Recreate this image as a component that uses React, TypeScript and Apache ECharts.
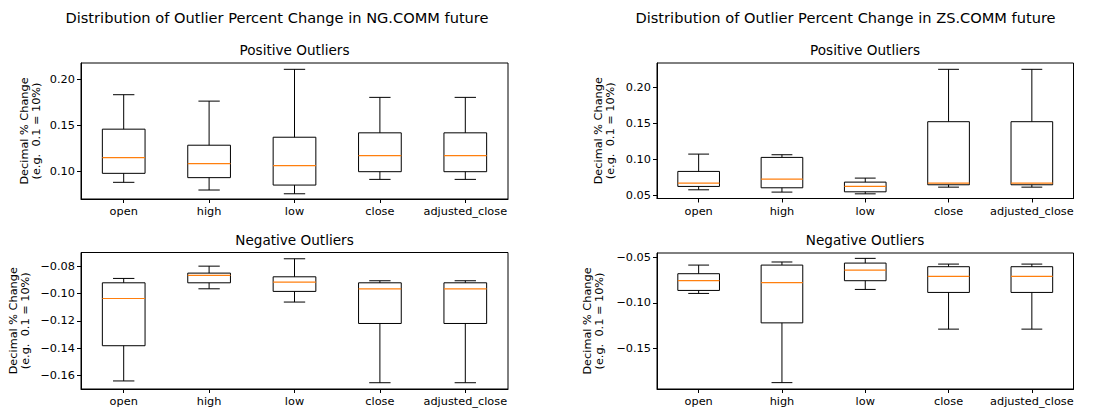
import React, { useEffect, useRef } from "react";
import * as echarts from "echarts";

const categories = ["open", "high", "low", "close", "adjusted_close"];

// [whiskerLow, Q1, median, Q3, whiskerHigh] per category
const ngPositive = [
  [0.088, 0.0978, 0.115, 0.146, 0.1836],
  [0.0796, 0.0931, 0.1084, 0.1285, 0.1766],
  [0.0755, 0.085, 0.1062, 0.1372, 0.2113],
  [0.0912, 0.0996, 0.1172, 0.142, 0.1807],
  [0.0912, 0.0996, 0.1172, 0.142, 0.1807],
];
const ngNegative = [
  [-0.1641, -0.1383, -0.1037, -0.0922, -0.089],
  [-0.0966, -0.0922, -0.0868, -0.0851, -0.08],
  [-0.1063, -0.0985, -0.0917, -0.0878, -0.0746],
  [-0.1654, -0.122, -0.0966, -0.0922, -0.0907],
  [-0.1654, -0.122, -0.0966, -0.0922, -0.0907],
];
const zsPositive = [
  [0.0574, 0.0621, 0.0667, 0.083, 0.1071],
  [0.0542, 0.0602, 0.0723, 0.1025, 0.1062],
  [0.0518, 0.0546, 0.0621, 0.0681, 0.0737],
  [0.0611, 0.0644, 0.0667, 0.1522, 0.2251],
  [0.0611, 0.0644, 0.0667, 0.1522, 0.2251],
];
const zsNegative = [
  [-0.0897, -0.0864, -0.0757, -0.068, -0.0585],
  [-0.1879, -0.1221, -0.0779, -0.0585, -0.0551],
  [-0.0853, -0.0757, -0.064, -0.0563, -0.0511],
  [-0.129, -0.0886, -0.071, -0.0603, -0.0574],
  [-0.129, -0.0886, -0.071, -0.0603, -0.0574],
];

const ngPosRange = [0.0698, 0.2182];
const ngNegRange = [-0.17, -0.07];
const zsPosRange = [0.0453, 0.2339];
const zsNegRange = [-0.1949, -0.0452];

const ngPosTicks = [0.1, 0.15, 0.2];
const ngNegTicks = [-0.16, -0.14, -0.12, -0.1, -0.08];
const zsPosTicks = [0.05, 0.1, 0.15, 0.2];
const zsNegTicks = [-0.15, -0.1, -0.05];

const suptitles = [
  "Distribution of Outlier Percent Change in NG.COMM future",
  "Distribution of Outlier Percent Change in ZS.COMM future",
];
const subtitles = ["Positive Outliers", "Negative Outliers"];
const yLabel = "Decimal % Change\n(e.g.  0.1 = 10%)";

const FONT = "DejaVu Sans";

export default function App() {
  const ref = useRef<HTMLDivElement>(null);
  useEffect(() => {
    if (!ref.current) return;
    const chart = echarts.init(ref.current, null, { renderer: "svg" });

    const panels = [
      { data: ngPositive, range: ngPosRange, ticks: ngPosTicks, grid: { left: 81, top: 63, width: 427, height: 136 }, gap: 38 },
      { data: ngNegative, range: ngNegRange, ticks: ngNegTicks, grid: { left: 81, top: 252.5, width: 427, height: 136.5 }, gap: 49 },
      { data: zsPositive, range: zsPosRange, ticks: zsPosTicks, grid: { left: 657, top: 63, width: 416.5, height: 135.5 }, gap: 40 },
      { data: zsNegative, range: zsNegRange, ticks: zsNegTicks, grid: { left: 657, top: 253, width: 416.5, height: 136 }, gap: 51 },
    ];

    const fmt = (v: number) => {
      const s = v.toFixed(2);
      return s.replace("-", "\u2212");
    };

    const renderItem = (params: any, api: any) => {
      const idx = api.value(0);
      const pLow = api.coord([idx, api.value(1)]);
      const pQ1 = api.coord([idx, api.value(2)]);
      const pMed = api.coord([idx, api.value(3)]);
      const pQ3 = api.coord([idx, api.value(4)]);
      const pHigh = api.coord([idx, api.value(5)]);
      const bw = api.size([1, 0])[0];
      const half = bw * 0.25;
      const cap = bw * 0.125;
      const x = pLow[0];
      const st = { stroke: "#000", lineWidth: 1, fill: null };
      return {
        type: "group",
        children: [
          { type: "line", shape: { x1: x, y1: pHigh[1], x2: x, y2: pQ3[1] }, style: st },
          { type: "line", shape: { x1: x, y1: pQ1[1], x2: x, y2: pLow[1] }, style: st },
          { type: "line", shape: { x1: x - cap, y1: pHigh[1], x2: x + cap, y2: pHigh[1] }, style: st },
          { type: "line", shape: { x1: x - cap, y1: pLow[1], x2: x + cap, y2: pLow[1] }, style: st },
          {
            type: "rect",
            shape: { x: x - half, y: pQ3[1], width: 2 * half, height: pQ1[1] - pQ3[1] },
            style: { stroke: "#000", lineWidth: 1, fill: "none" },
          },
          {
            type: "line",
            shape: { x1: x - half, y1: pMed[1], x2: x + half, y2: pMed[1] },
            style: { stroke: "#ff7f0e", lineWidth: 1.2 },
          },
        ],
      };
    };

    const titleFont = `14.6px '${FONT}'`;
    const subFont = `13.6px '${FONT}'`;

    const option: any = {
      animation: false,
      backgroundColor: "#fff",
      textStyle: { fontFamily: FONT },
      grid: panels.map((p) => ({
        ...p.grid,
        show: true,
        borderColor: "#000",
        borderWidth: 1,
        backgroundColor: "transparent",
        containLabel: false,
      })),
      xAxis: panels.map((p, i) => ({
        type: "category",
        gridIndex: i,
        data: categories,
        boundaryGap: true,
        axisLine: { show: true, lineStyle: { color: "#000", width: 1 } },
        axisTick: { show: true, alignWithLabel: true, length: 4, lineStyle: { color: "#000" } },
        axisLabel: { show: true, color: "#000", fontSize: 11.3, fontFamily: FONT, margin: 7, interval: 0 },
        splitLine: { show: false },
      })),
      yAxis: panels.map((p, i) => ({
        type: "value",
        gridIndex: i,
        min: p.range[0],
        max: p.range[1],
        name: yLabel,
        nameLocation: "middle",
        nameRotate: 90,
        nameGap: p.gap,
        nameTextStyle: { color: "#000", fontSize: 11.3, fontFamily: FONT, lineHeight: 12.5, align: "center" },
        axisLine: { show: true, lineStyle: { color: "#000", width: 1 } },
        axisTick: { show: true, length: 4, lineStyle: { color: "#000" }, customValues: p.ticks },
        axisLabel: { color: "#000", fontSize: 11.3, fontFamily: FONT, margin: 6, customValues: p.ticks, formatter: fmt },
        splitLine: { show: false },
      })),
      series: panels.map((p, i) => ({
        type: "custom",
        xAxisIndex: i,
        yAxisIndex: i,
        renderItem,
        encode: { x: 0, y: [1, 2, 3, 4, 5] },
        data: p.data.map((d, k) => [k, ...d]),
      })),
      graphic: [
        { type: "text", x: 277, y: 17, style: { text: suptitles[0], font: titleFont, fill: "#000", align: "center", verticalAlign: "middle" } },
        { type: "text", x: 845.5, y: 17, style: { text: suptitles[1], font: titleFont, fill: "#000", align: "center", verticalAlign: "middle" } },
        { type: "text", x: 294.5, y: 50, style: { text: subtitles[0], font: subFont, fill: "#000", align: "center", verticalAlign: "middle" } },
        { type: "text", x: 294.5, y: 240, style: { text: subtitles[1], font: subFont, fill: "#000", align: "center", verticalAlign: "middle" } },
        { type: "text", x: 865, y: 50, style: { text: subtitles[0], font: subFont, fill: "#000", align: "center", verticalAlign: "middle" } },
        { type: "text", x: 865, y: 240, style: { text: subtitles[1], font: subFont, fill: "#000", align: "center", verticalAlign: "middle" } },
      ],
    };
    chart.setOption(option);
    return () => chart.dispose();
  }, []);
  return <div ref={ref} style={{ position: "fixed", left: 0, top: 0, width: 1116, height: 413 }} />;
}
